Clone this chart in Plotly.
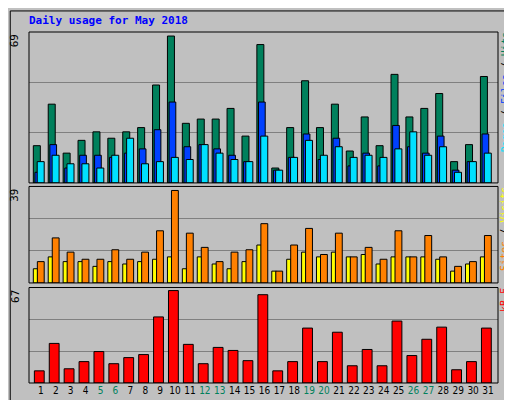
import plotly.graph_objects as go

days = list(range(1, 32))
hits = [17.5, 37, 14, 20, 24, 21, 24, 26, 46, 69, 28, 30, 30, 35, 22, 65, 7, 26, 48, 26,
        37, 15, 31, 17.5, 51, 31, 35, 42, 10, 18, 50]
files = [5, 18, 7, 13, 13, 12, 14, 16, 25, 38, 17, 18, 16, 13, 10, 38, 6, 12, 23, 11,
         21, 8, 14, 8, 27, 17, 14, 22, 6, 10, 23]
pages = [10, 13, 9, 9, 7, 13, 21, 9, 10, 12, 11, 18, 14, 11, 10, 22, 6, 12, 20, 13,
         17, 12, 13, 12, 16, 24, 13, 17, 5, 10, 14]
sites = [6, 11, 9, 9, 7, 9, 8, 9, 10, 11, 6, 11, 8, 6, 9, 16, 5, 10, 13, 11,
         13, 11, 12, 8, 11, 11, 11, 10, 5, 8, 11]
visits = [9, 19, 13, 10, 10, 14, 10, 13, 22, 39, 21, 15, 9, 13, 14, 25, 5, 16, 23, 12,
          21, 11, 15, 10, 22, 11, 20, 11, 7, 9, 20]
kbytes = [8.8, 28.7, 10.3, 15.5, 22.8, 14, 18.4, 20.6, 47.9, 67, 28, 14, 25.8, 23.6, 16.2, 64,
          8.8, 15.5, 39.8, 15.5, 36.8, 12.5, 24.3, 12.5, 44.9, 19.9, 31.7, 40.5, 9.6, 15.5, 39.8]
weekend = [5, 6, 12, 13, 19, 20, 26, 27]

FONT = "DejaVu Sans Mono"
line = dict(color="black", width=1)


def bar(y, color, offset, width, axis):
    return go.Bar(x=days, y=y, yaxis=axis, offset=offset, width=width,
                  marker=dict(color=color, line=line), hoverinfo="y")


fig = go.Figure()
fig.add_trace(bar(hits, "#00805C", -0.51, 0.47, "y"))
fig.add_trace(bar(files, "#0040FF", -0.4, 0.45, "y"))
fig.add_trace(bar(pages, "#00E0FF", -0.25, 0.47, "y"))
fig.add_trace(bar(sites, "#FFFF00", -0.51, 0.3, "y2"))
fig.add_trace(bar(visits, "#FF8000", -0.24, 0.46, "y2"))
fig.add_trace(bar(kbytes, "#FF0000", -0.44, 0.66, "y3"))

top_max, mid_max, bot_max = 70.9, 40.7, 69.2


def yax(dom, rmax):
    return dict(domain=dom, range=[0, rmax], tickvals=[rmax / 3, 2 * rmax / 3],
                showticklabels=False, showgrid=True, gridcolor="#808080",
                gridwidth=1, zeroline=False, ticks="", fixedrange=True)


ticktext = [f'<span style="color:#00805C">{d}</span>' if d in weekend else str(d) for d in days]

fig.update_layout(
    width=512, height=400, barmode="overlay", showlegend=False,
    paper_bgcolor="#C0C0C0", plot_bgcolor="#C0C0C0",
    margin=dict(l=21, r=22, t=24, b=23),
    font=dict(family=FONT, size=11, color="black"),
    xaxis=dict(range=[0.2, 31.67], tickvals=days, ticktext=ticktext, anchor="y3",
               showgrid=False, zeroline=False, ticks="", fixedrange=True,
               tickangle=0, tickfont=dict(size=10, family="DejaVu Sans Condensed")),
    yaxis=yax([0.57, 1.0], top_max),
    yaxis2=yax([0.285, 0.56], mid_max),
    yaxis3=yax([0.0, 0.272], bot_max),
)

# panel frames
for ax in ["y", "y2", "y3"]:
    fig.add_shape(type="rect", xref="x domain", yref=f"{ax} domain", x0=0, x1=1, y0=0, y1=1,
                  line=dict(color="black", width=1))
# outer frame
fig.add_shape(type="rect", xref="paper", yref="paper", x0=-0.04, x1=1.045, y0=-0.063, y1=1.06,
              line=dict(color="black", width=1))

fig.add_annotation(text="<b>Daily usage for May 2018</b>", xref="paper", yref="paper",
                   x=-0.005, y=1.058, xanchor="left", yanchor="top", showarrow=False,
                   font=dict(color="#0000FF", size=11, family=FONT))

for txt, ax in [("69", "y"), ("39", "y2"), ("67", "y3")]:
    fig.add_annotation(text=txt, xref="paper", yref=f"{ax} domain", x=-0.012, y=1,
                       xanchor="right", yanchor="top", textangle=-90, showarrow=False,
                       font=dict(size=11))

right = [
    ('<span style="color:#00E0FF">Pages</span> / <span style="color:#0040FF">Files</span>'
     ' / <span style="color:#00805C">Hits</span>', "y"),
    ('<span style="color:#FF8000">Sites</span> / <span style="color:#FFFF00">Visits</span>', "y2"),
    ('<span style="color:#FF0000">kB F</span>', "y3"),
]
for txt, ax in right:
    fig.add_annotation(text=txt, xref="paper", yref=f"{ax} domain", x=1.0, y=1,
                       xanchor="left", yanchor="top", textangle=-90, showarrow=False,
                       borderpad=0, font=dict(size=10, color="black"))

fig.write_html("out.html", config={"displayModeBar": False})
